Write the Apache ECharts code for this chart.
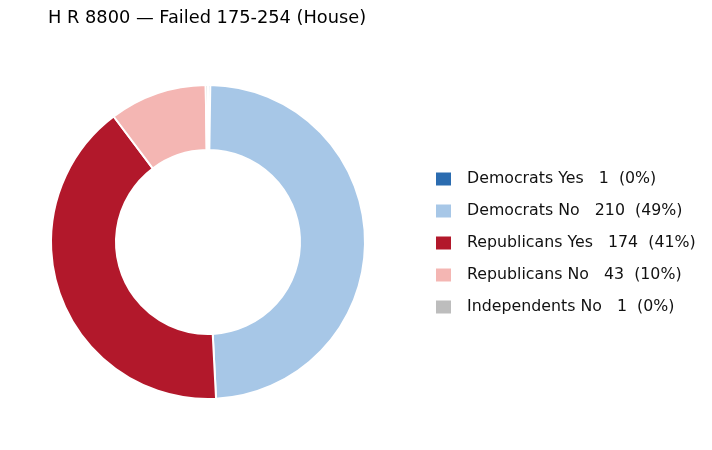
<!DOCTYPE html>
<html>
<head>
<meta charset="utf-8">
<title>H R 8800</title>
<script src="https://cdn.jsdelivr.net/npm/echarts@6/dist/echarts.min.js"></script>
<style>
  html, body { margin: 0; padding: 0; background: #fff; }
  #chart { width: 712px; height: 450px; }
</style>
</head>
<body>
<div id="chart"></div>
<script type="text/javascript">
  // vote breakdown
  var categories = ['Democrats Yes', 'Democrats No', 'Republicans Yes', 'Republicans No', 'Independents No'];
  var votes = [1, 210, 174, 43, 1];
  var colors = ['#2b6cb0', '#a7c7e7', '#b2182b', '#f4b6b3', '#bdbdbd'];

  var total = votes.reduce(function (a, b) { return a + b; }, 0);

  var pieData = categories.map(function (name, i) {
    return { name: name, value: votes[i], itemStyle: { color: colors[i] } };
  });

  var font = "'DejaVu Sans', sans-serif";

  var myChart = echarts.init(document.getElementById('chart'));
  var option = {
    animation: false,
    title: {
      text: 'H R 8800 \u2014 Failed 175-254 (House)',
      left: 43,
      top: 4,
      textStyle: {
        fontFamily: font,
        fontSize: 17.8,
        fontWeight: 'normal',
        color: '#000'
      }
    },
    legend: {
      orient: 'vertical',
      left: 429,
      top: 165,
      icon: 'rect',
      itemWidth: 17,
      itemHeight: 15,
      itemGap: 14,
      selectedMode: false,
      data: categories,
      formatter: function (name) {
        var i = categories.indexOf(name);
        var pct = Math.round(votes[i] / total * 100);
        return name + '   ' + votes[i] + '  (' + pct + '%)';
      },
      textStyle: {
        fontFamily: font,
        fontSize: 15.8,
        color: '#111',
        lineHeight: 18,
        padding: [0, 0, 0, 10]
      }
    },
    series: [
      {
        name: 'votes',
        type: 'pie',
        center: [208, 242],
        radius: [92, 157],
        startAngle: 90,
        clockwise: true,
        label: { show: false },
        labelLine: { show: false },
        emphasis: { disabled: true },
        itemStyle: { borderColor: '#fff', borderWidth: 2 },
        data: pieData
      }
    ]
  };
  myChart.setOption(option);
</script>
</body>
</html>
